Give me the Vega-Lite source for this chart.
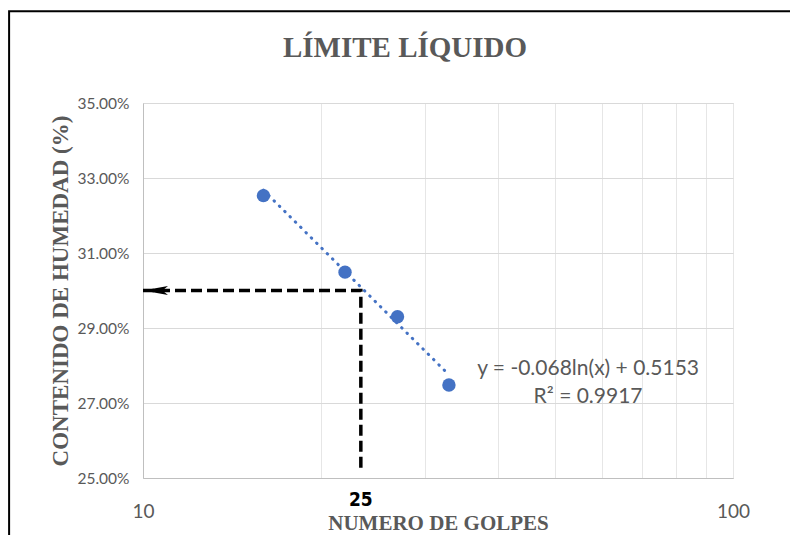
{
  "$schema": "https://vega.github.io/schema/vega-lite/v6.json",
  "width": 590,
  "height": 375,
  "autosize": {"type": "none"},
  "padding": {"left": 143, "top": 103, "right": 57, "bottom": 57},
  "background": "white",
  "config": {"view": {"stroke": "#d9d9d9", "strokeWidth": 1}},
  "title": {"text": "LÍMITE LÍQUIDO", "font": "Liberation Serif", "fontSize": 29, "fontWeight": "bold", "color": "#595959", "anchor": "middle", "frame": "group", "dx": -33, "offset": 0, "dy": 56},
  "datasets": {
    "puntos": [
      {"x": 16, "y": 0.3253},
      {"x": 22, "y": 0.3049},
      {"x": 27, "y": 0.2930},
      {"x": 33, "y": 0.2748}
    ],
    "tendencia": [
      {"x": 16, "y": 0.32676},
      {"x": 33, "y": 0.27754}
    ],
    "guia": [
      {"x": 10, "y": 0.30, "order": 1},
      {"x": 23.4, "y": 0.30, "order": 2},
      {"x": 23.4, "y": 0.252, "order": 3}
    ],
    "flecha": [
      {"x": 10, "y": 0.30}
    ],
    "ecuacion": [
      {"x": 56.8, "y": 0.2791, "label": "y = -0.068ln(x) + 0.5153"},
      {"x": 56.8, "y": 0.2716, "label": "R² = 0.9917"}
    ],
    "veinticinco": [
      {"x": 23.4, "y": 0.25, "label": "25"}
    ],
    "marco": [
      {"x": 130, "y": 0.3745, "order": 1},
      {"x": 5.93, "y": 0.3745, "order": 2},
      {"x": 5.93, "y": 0.23, "order": 3}
    ]
  },
  "encoding": {
    "x": {
      "field": "x", "type": "quantitative",
      "scale": {"type": "log", "domain": [10, 100], "nice": false},
      "axis": {
        "values": [10, 20, 30, 40, 50, 60, 70, 80, 90, 100],
        "labelExpr": "datum.value == 10 || datum.value == 100 ? format(datum.value, 'd') : ''",
        "labelFont": "Lato", "labelFontSize": 19, "labelColor": "#595959",
        "ticks": false, "labelPadding": 24, "labelOverlap": false, "labelFlush": false,
        "domainColor": "#bfbfbf", "gridColor": "#e6e6e6",
        "title": "NUMERO DE GOLPES", "titleFont": "Liberation Serif", "titleFontSize": 21,
        "titleFontWeight": "bold", "titleColor": "#595959", "titlePadding": -9
      }
    },
    "y": {
      "field": "y", "type": "quantitative",
      "scale": {"domain": [0.25, 0.35], "nice": false, "zero": false},
      "axis": {
        "values": [0.25, 0.27, 0.29, 0.31, 0.33, 0.35],
        "format": ".2%",
        "labelFont": "Lato", "labelFontSize": 15.5, "labelColor": "#595959",
        "ticks": false, "labelPadding": 14,
        "domainColor": "#bfbfbf", "gridColor": "#d9d9d9",
        "title": "CONTENIDO DE HUMEDAD (%)", "titleFont": "Liberation Serif", "titleFontSize": 23,
        "titleFontWeight": "bold", "titleColor": "#595959", "titlePadding": 4
      }
    }
  },
  "layer": [
    {
      "data": {"name": "marco"},
      "mark": {"type": "line", "color": "black", "strokeWidth": 2, "clip": false},
      "encoding": {"order": {"field": "order", "type": "quantitative"}}
    },
    {
      "data": {"name": "tendencia"},
      "mark": {"type": "line", "color": "#4472C4", "strokeWidth": 3, "strokeDash": [0.5, 7], "strokeCap": "round"}
    },
    {
      "data": {"name": "guia"},
      "mark": {"type": "line", "color": "black", "strokeWidth": 3.5, "strokeDash": [11, 5]},
      "encoding": {"order": {"field": "order", "type": "quantitative"}}
    },
    {
      "data": {"name": "flecha"},
      "mark": {"type": "point", "filled": true, "opacity": 1, "color": "black", "size": 625, "shape": "M0,0 L2,-0.36 L1.55,0 L2,0.36 Z"}
    },
    {
      "data": {"name": "puntos"},
      "mark": {"type": "point", "filled": true, "opacity": 1, "color": "#4472C4", "size": 180}
    },
    {
      "data": {"name": "ecuacion"},
      "mark": {"type": "text", "font": "Lato", "fontSize": 21, "color": "#595959", "align": "center", "baseline": "middle"},
      "encoding": {"text": {"field": "label", "type": "nominal"}}
    },
    {
      "data": {"name": "veinticinco"},
      "mark": {"type": "text", "font": "Liberation Sans Narrow, DejaVu Sans Condensed, sans-serif", "fontWeight": "bold", "fontSize": 19, "color": "black", "align": "center", "baseline": "middle", "dy": 22, "clip": false},
      "encoding": {"text": {"field": "label", "type": "nominal"}}
    }
  ]
}
